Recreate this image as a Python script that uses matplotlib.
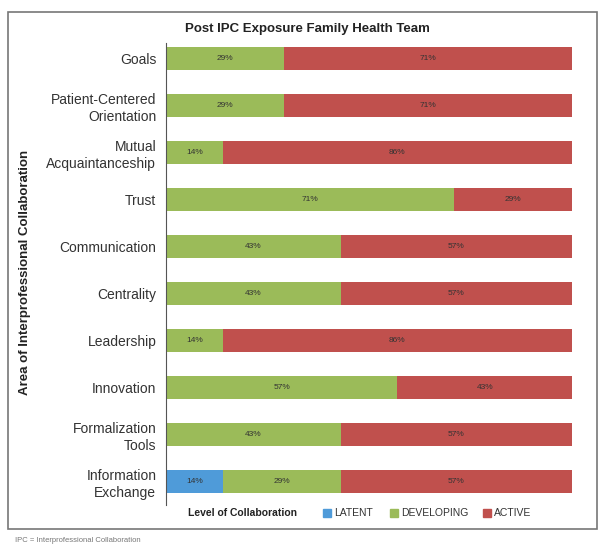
import numpy as np
import matplotlib.pyplot as plt
from matplotlib.patches import Rectangle

plt.rcParams['font.family'] = ['Liberation Sans', 'DejaVu Sans']

categories = ['Goals', 'Patient-Centered\nOrientation', 'Mutual\nAcquaintanceship', 'Trust',
              'Communication', 'Centrality', 'Leadership', 'Innovation',
              'Formalization\nTools', 'Information\nExchange']
latent = [0, 0, 0, 0, 0, 0, 0, 0, 0, 14]
developing = [29, 29, 14, 71, 43, 43, 14, 57, 43, 29]
active = [71, 71, 86, 29, 57, 57, 86, 43, 57, 57]
series_names = ['LATENT', 'DEVELOPING', 'ACTIVE']
colors = ['#4F9BD9', '#9BBB59', '#C0504D']

fig = plt.figure(figsize=(5.98, 5.44), dpi=100)
ax = fig.add_axes([166 / 598, 1 - 505 / 544, (572 - 166) / 598, (505 - 43) / 544])

y = np.arange(len(categories))
left = np.zeros(len(categories))
for vals, name, c in zip([latent, developing, active], series_names, colors):
    vals = np.array(vals)
    ax.barh(y, vals, left=left, height=0.49, color=c, label=name)
    for yi, v, l in zip(y, vals, left):
        if v > 0:
            ax.text(l + v / 2, yi, f'{v}%', ha='center', va='center', fontsize=6, color='#333333')
    left += vals

ax.set_xlim(0, 100)
ax.set_ylim(len(categories) - 0.5, -0.33)
ax.set_yticks(y)
ax.set_yticklabels(categories, fontsize=10, color='#333333', linespacing=1.3)
ax.tick_params(axis='y', length=0, pad=7)
ax.set_xticks([])
for s in ['top', 'right', 'bottom']:
    ax.spines[s].set_visible(False)
ax.spines['left'].set_color('#555555')
ax.spines['left'].set_linewidth(0.8)

fig.text(307 / 598, 1 - 29 / 544, 'Post IPC Exposure Family Health Team', ha='center', va='center',
         fontsize=9.5, fontweight='bold', color='#222222')
fig.text(25 / 598, 1 - 272 / 544, 'Area of Interprofessional Collaboration', rotation=90,
         ha='center', va='center', fontsize=9.5, fontweight='bold', color='#222222')

# legend
fig.text(188 / 598, 1 - 513 / 544, 'Level of Collaboration', ha='left', va='center',
         fontsize=7.5, fontweight='bold', color='#222222')
legend_x = [323, 390, 483]
for x, name, c in zip(legend_x, series_names, colors):
    fig.patches.append(Rectangle((x / 598, 1 - 517 / 544), 8 / 598, 8 / 544,
                                 transform=fig.transFigure, color=c))
    fig.text((x + 11) / 598, 1 - 513 / 544, name, ha='left', va='center', fontsize=7.5, color='#333333')

# outer frame
fig.patches.append(Rectangle((8 / 598, 1 - 529 / 544), 589 / 598, 517 / 544, transform=fig.transFigure,
                             fill=False, edgecolor='#777777', linewidth=1.2))

fig.text(15 / 598, 1 - 541 / 544, 'IPC = Interprofessional Collaboration', ha='left', va='center',
         fontsize=5.5, color='#777777')

fig.savefig('out.png', dpi=100)
